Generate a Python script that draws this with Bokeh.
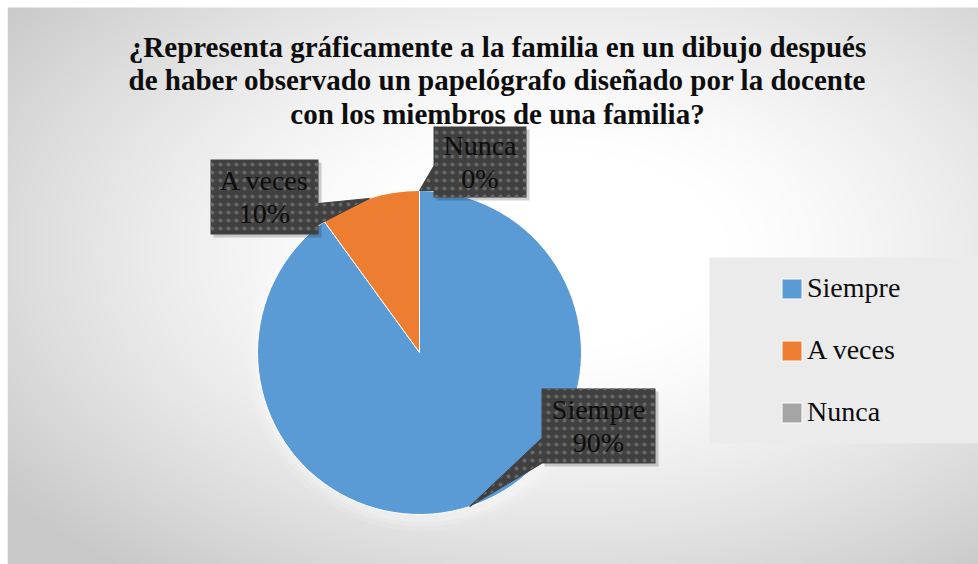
import numpy as np
from bokeh.plotting import figure
from bokeh.models import ColumnDataSource, Range1d, Legend, LegendItem
from bokeh.core.properties import value
from bokeh.embed import file_html
from bokeh.resources import INLINE

# ---------------- data ----------------
categories = ["Siempre", "A veces", "Nunca"]
percentages = [90, 10, 0]
colors = ["#5B9BD5", "#ED7D31", "#A5A5A5"]
title_lines = [
    "¿Representa gráficamente a la familia en un dibujo después",
    "de haber observado un papelógrafo diseñado por la docente",
    "con los miembros de una familia?",
]

# ---------------- layout helpers (reference pixel -> data) ----------------
W, H = 978, 564
def X(rx):
    return rx
def Y(ry):
    return H - ry

SERIF = value("Liberation Serif")

p = figure(width=W, height=H, x_range=Range1d(0, W), y_range=Range1d(0, H),
           output_backend="svg", toolbar_location=None, min_border=0)
p.axis.visible = False
p.grid.visible = False
p.outline_line_color = None
p.background_fill_color = "white"
p.border_fill_color = "white"

# ---------------- radial background gradient (chart area starts at 7,7) ----------------
res = 2
x0, y0 = 7, 7
nx, ny = (W - x0) // res + 1, (H - y0) // res + 1
xs = x0 + (np.arange(nx) + 0.5) * res
ys = H - (np.arange(ny) + 0.5) * res
XX, YY = np.meshgrid(xs, ys)
d = np.sqrt(((XX - 560) / 560.0) ** 2 + ((YY - 250) / 330.0) ** 2)
t = np.clip((d - 0.3) / 0.95, 0, 1) ** 1.3
v = (255 - 55 * t).astype(np.uint8)
img = np.empty((ny, nx), dtype=np.uint32)
view = img.view(dtype=np.uint8).reshape((ny, nx, 4))
view[..., 0] = v
view[..., 1] = v
view[..., 2] = v
view[..., 3] = 255
p.image_rgba(image=[img], x=x0, y=0, dw=nx * res, dh=ny * res)
# restore white margin on top/left
p.quad(left=0, right=W, top=H, bottom=Y(y0), fill_color="white", line_color=None)
p.quad(left=0, right=x0, top=H, bottom=0, fill_color="white", line_color=None)

# ---------------- pie ----------------
CX, CY, R = X(419), Y(352), 162
frac = np.array(percentages, dtype=float) / sum(percentages)
cum = np.cumsum(frac)
start = np.pi / 2 - 2 * np.pi * np.concatenate([[0.0], cum[:-1]])
end = np.pi / 2 - 2 * np.pi * cum
mid = (start + end) / 2
radius = np.where(frac > 0, R, 0.0)
src = ColumnDataSource(dict(cat=categories, start=start, end=end, color=colors, r=radius))

# soft halo around the pie
for k, a in [(14, 0.10), (9, 0.15), (5, 0.2)]:
    p.circle(x=CX + 3, y=CY - 3, radius=R + k, fill_color="white", fill_alpha=a, line_color=None)

pie = p.wedge(x=CX, y=CY, radius="r", start_angle="start", end_angle="end",
              direction="clock", fill_color="color", line_color="white",
              line_width=1, source=src)

# ---------------- data label callouts ----------------
boxes = {  # left, top, right, bottom (reference px)
    "Siempre": (541, 388, 655, 463),
    "A veces": (210, 159, 318, 234),
    "Nunca": (433, 126, 526, 197),
}
bases = {
    "Siempre": ((541, 438), (541, 463)),
    "A veces": ((318, 203), (318, 224)),
    "Nunca": ((433, 166), (433, 190)),
}
DARK = "#404040"
HATCH = dict(hatch_pattern="dot", hatch_color="#686868", hatch_scale=8, hatch_weight=1.5)
for i, cat in enumerate(categories):
    l, t_, r_, b = boxes[cat]
    tipx = CX + R * np.cos(mid[i])
    tipy = CY + R * np.sin(mid[i])
    (bx1, by1), (bx2, by2) = bases[cat]
    # shadow
    p.quad(left=X(l) + 3, right=X(r_) + 3, top=Y(t_) - 3, bottom=Y(b) - 3,
           fill_color="black", fill_alpha=0.18, line_color=None)
    p.patch(x=[X(bx1), X(bx2), tipx], y=[Y(by1), Y(by2), tipy],
            fill_color=DARK, line_color=DARK, line_width=1, **HATCH)
    p.quad(left=X(l), right=X(r_), top=Y(t_), bottom=Y(b),
           fill_color=DARK, line_color=None, **HATCH)
    p.text(x=[(X(l) + X(r_)) / 2], y=[(Y(t_) + Y(b)) / 2],
           text=[f"{cat}\n{percentages[i]}%"], text_align="center", text_baseline="middle",
           text_font=SERIF, text_font_size="28px", text_color="#0d0d0d",
           text_line_height=1.07)

# ---------------- title ----------------
p.text(x=[X(497)], y=[Y(30)], text=["\n".join(title_lines)],
       text_align="center", text_baseline="top", text_font=SERIF,
       text_font_style="bold", text_font_size="29px", text_color="#0d0d0d",
       text_line_height=1.052)

# ---------------- legend ----------------
p.quad(left=X(709), right=X(978), top=Y(257), bottom=Y(443),
       fill_color="#ebebeb", line_color=None)
legend = Legend(
    items=[LegendItem(label=c, renderers=[pie], index=i) for i, c in enumerate(categories)],
    location=(779, H - 428),
    orientation="vertical",
    label_text_font="Liberation Serif", label_text_font_size="28px",
    label_text_color="#0d0d0d",
    glyph_width=25, glyph_height=25, label_standoff=3, label_height=32,
    spacing=30, padding=0, margin=0,
    background_fill_alpha=0, border_line_alpha=0,
)
p.add_layout(legend, "center")

open("out.html", "w").write(file_html(p, INLINE))
